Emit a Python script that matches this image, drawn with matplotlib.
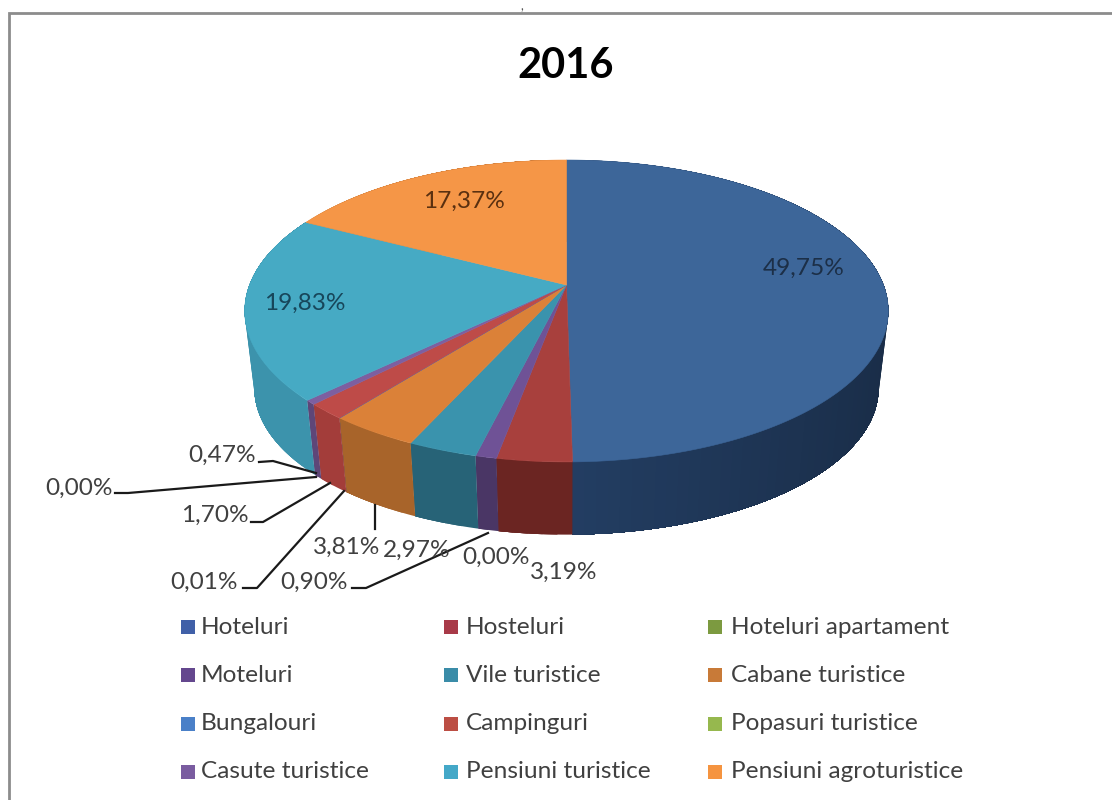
#!/usr/bin/env python3
"""
Perspective pie chart of tourist accommodation shares, 2016.
"""

import numpy as np
import matplotlib
matplotlib.use('Agg')
import matplotlib.pyplot as plt
from matplotlib.colors import to_rgb

plt.rcParams['font.family'] = ['Lato', 'DejaVu Sans']

# Data
categories = ['Hoteluri', 'Hosteluri', 'Hoteluri apartament', 'Moteluri',
              'Vile turistice', 'Cabane turistice', 'Bungalouri', 'Campinguri',
              'Popasuri turistice', 'Casute turistice', 'Pensiuni turistice',
              'Pensiuni agroturistice']
shares = [49.75, 3.19, 0.00, 0.90, 2.97, 3.81, 0.01, 1.70, 0.00, 0.47, 19.83, 17.37]
year = '2016'

# Colours
top_colors = ['#3D6699', '#A8403D', '#82A040', '#6F5296', '#3A93AD', '#DB8138',
              '#4A7EBB', '#BE4B48', '#98B954', '#7D5FA0', '#46AAC4', '#F59647']
wall_colors = ['#233E63', '#6B2522', '#5C7230', '#4A3665', '#276377', '#A8642A',
               '#35598A', '#A33D3A', '#6E8A3C', '#5E4678', '#3C93AC', '#B56A2E']
legend_colors = ['#4060A8', '#A83A48', '#7C9A40', '#64478E', '#3A8CA8', '#C87A38',
                 '#4A80C8', '#BC4E44', '#96B84E', '#7A5CA0', '#44A8C8', '#F59440']

# Perspective disc: hub position and projection constants, in pixels
HUB_X, HUB_Y = 566.5, 285.0
K = 0.172
A = 146.5
B = 317.0
DEPTH = 78.0
BOTTOM_SCALE = 0.97
LABEL_SIZE = 17.6


def project(theta, scale=1.0, drop=0.0):
    """Map an angle (clockwise from 12 o'clock) on the disc rim to pixels."""
    u, v = np.sin(theta), np.cos(theta)
    w = 1 + K * v
    return HUB_X + scale * B * u / w, HUB_Y + drop - scale * A * v / w


def shade(color, theta):
    """Darken the wall towards the right hand side."""
    factor = 1.0 - 0.28 * np.clip(np.sin(theta), 0, 1)
    return tuple(c * factor for c in to_rgb(color))


def pct(value):
    return f'{value:.2f}%'.replace('.', ',')


fig = plt.figure(figsize=(11.12, 8.0), dpi=100)
ax = fig.add_axes([0, 0, 1, 1])
ax.set_xlim(0, 1112)
ax.set_ylim(800, 0)
ax.axis('off')

# Chart frame, open on the right and at the bottom
ax.plot([8.5, 8.5, 1112], [800, 12.5, 12.5], color='#8c8c8c', lw=2.0, solid_joinstyle='miter')
ax.text(522, 0, ',', fontsize=9, color='#555555', ha='center', va='top')

edges = np.cumsum([0] + shares) / sum(shares) * 2 * np.pi

# Walls first, the top covers whatever lies behind it.
# Each strip runs to the end of its slice so no seams show between strips.
for i, share in enumerate(shares):
    if share <= 0:
        continue
    steps = np.linspace(edges[i], edges[i + 1], max(3, int(share * 2)))
    for t0 in steps[:-1]:
        ts = np.linspace(t0, edges[i + 1], 60)
        xa, ya = project(ts)
        xb, yb = project(ts[::-1], BOTTOM_SCALE, DEPTH)
        c = shade(wall_colors[i], t0)
        ax.fill(np.r_[xa, xb], np.r_[ya, yb], facecolor=c, edgecolor='none', zorder=2)

# Top face
for i, share in enumerate(shares):
    if share <= 0:
        continue
    ts = np.linspace(edges[i], edges[i + 1], max(4, int(share * 6)))
    x, y = project(ts)
    ax.fill(np.r_[HUB_X, x], np.r_[HUB_Y, y], color=top_colors[i], lw=0.4, zorder=3)

ax.text(566, 66, year, fontsize=30, fontweight='bold', color='black',
        ha='center', va='center', zorder=5)

# Labels inside the disc
inside = {0: (804, 268, '#1C2F47'), 11: (464, 201, '#5A3010'), 10: (305, 303, '#17465A')}
for i, (lx, ly, c) in inside.items():
    ax.text(lx, ly, pct(shares[i]), fontsize=LABEL_SIZE, color=c, ha='center', va='center', zorder=5)

# Labels outside, with their leader lines
outside = {
    9: (222, 455, [(259, 462), (273, 461), (316, 473)]),
    8: (79, 488, [(115, 493), (128, 493), (316, 477)]),
    7: (215, 515, [(251, 522), (263, 522), (330, 483)]),
    6: (204, 582, [(243, 588), (257, 588), (344, 491)]),
    3: (314, 582, [(352, 588), (366, 588), (488, 533)]),
    5: (347, 547, [(375, 505), (375, 529)]),
    4: (417, 550, None),
    2: (496, 557, None),
    1: (564, 572, None),
}
for i, (lx, ly, leader) in outside.items():
    ax.text(lx, ly, pct(shares[i]), fontsize=LABEL_SIZE, color='#404040', ha='center', va='center', zorder=5)
    if leader:
        px, py = zip(*leader)
        ax.plot(px, py, color='#1a1a1a', lw=1.6, zorder=4)

# Legend, filled row by row
col_x = [181, 444, 708]
text_gap = [20, 22, 23]
row_y = [627, 675, 724, 772]
for i, name in enumerate(categories):
    sx = col_x[i % 3]
    sy = row_y[i // 3]
    ax.add_patch(plt.Rectangle((sx, sy - 7), 14, 14, color=legend_colors[i], lw=0, zorder=4))
    ax.text(sx + text_gap[i % 3], sy, name, fontsize=LABEL_SIZE, color='#404040',
            ha='left', va='center', zorder=5)

plt.savefig('out.png', dpi=100)
